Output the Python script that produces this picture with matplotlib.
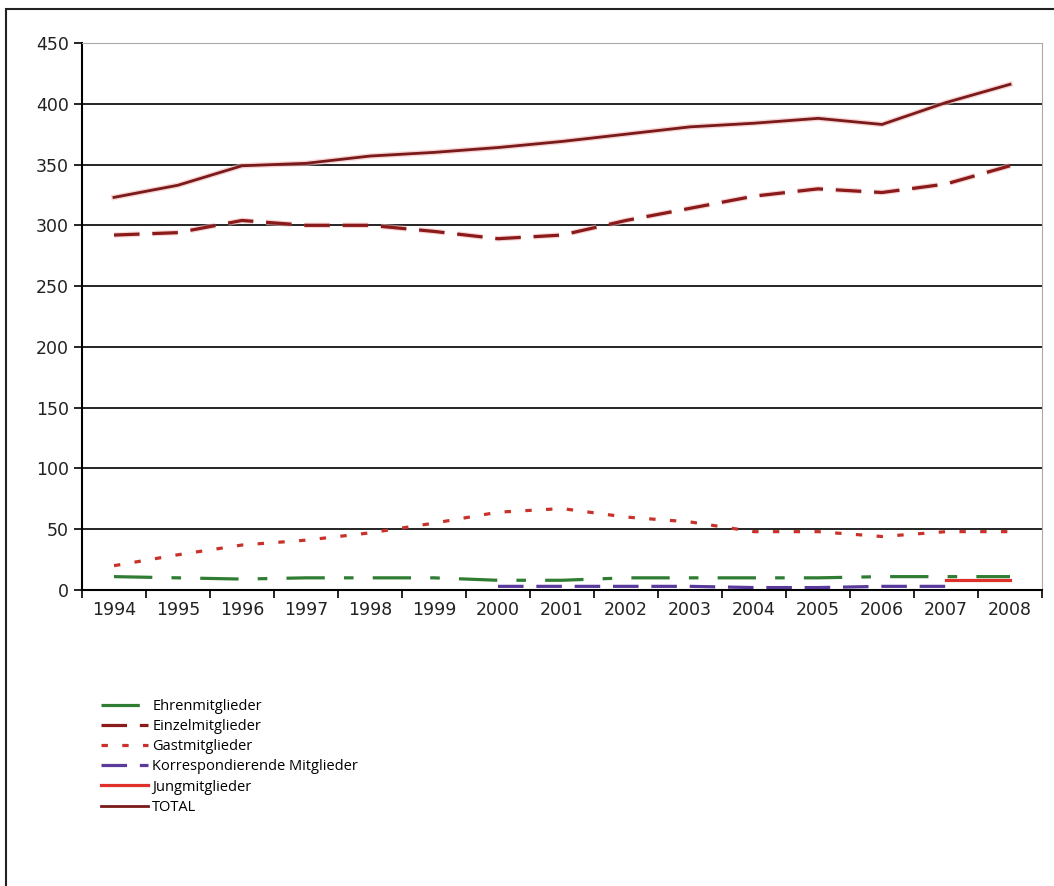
import numpy as np
import matplotlib.pyplot as plt
import matplotlib.patheffects as pe
from matplotlib.patches import Rectangle

years = ['1994', '1995', '1996', '1997', '1998', '1999', '2000', '2001',
         '2002', '2003', '2004', '2005', '2006', '2007', '2008']

ehren = [11, 10, 9, 10, 10, 10, 8, 8, 10, 10, 10, 10, 11, 11, 11]
einzel = [292, 294, 304, 300, 300, 295, 289, 292, 304, 314, 324, 330, 327, 334, 349]
gast = [20, 29, 37, 41, 47, 55, 64, 67, 60, 56, 48, 48, 44, 48, 48]
korr = [None, None, None, None, None, None, 3, 3, 3, 3, 2, 2, 3, 3, None]
jung = [None] * 13 + [8, 8]
total = [323, 333, 349, 351, 357, 360, 364, 369, 375, 381, 384, 388, 383, 401, 416]

def arr(v):
    return np.array([np.nan if x is None else x for x in v], dtype=float)

fig = plt.figure(figsize=(10.54, 8.86), dpi=100)
plt.rcParams['font.family'] = ['Open Sans', 'DejaVu Sans']

# outer frame
fig.patches.append(Rectangle((6 / 1054, -0.01), 1.1, 1 - 9 / 886 + 0.01,
                             transform=fig.transFigure, fill=False,
                             edgecolor='#222222', linewidth=1.5))

ax = fig.add_axes([82 / 1054, 1 - 590 / 886, 960 / 1054, 547 / 886])
x = np.arange(len(years))

halo = [pe.Stroke(linewidth=4, foreground='#f2b8b8', alpha=0.6), pe.Normal()]

l1, = ax.plot(x, arr(ehren), color='#2e7d32', lw=2.3, dashes=(12, 6, 3, 6),
              label='Ehrenmitglieder')
l2, = ax.plot(x, arr(einzel), color='#8b1a1a', lw=2.3, dashes=(8, 4),
              label='Einzelmitglieder', path_effects=halo)
l3, = ax.plot(x, arr(gast), color='#c8322a', lw=2.3, dashes=(2, 4.5),
              label='Gastmitglieder')
l4, = ax.plot(x, arr(korr), color='#5a3a9c', lw=2.3, dashes=(8, 4),
              label='Korrespondierende Mitglieder')
l5, = ax.plot(x, arr(jung), color='#e0302a', lw=2.3, label='Jungmitglieder')
l6, = ax.plot(x, arr(total), color='#7a1a1a', lw=2, label='TOTAL',
              path_effects=halo)

ax.set_xlim(-0.5, len(years) - 0.5)
ax.set_ylim(0, 450)
ax.set_yticks(range(0, 451, 50))
ax.set_xticks(x)
ax.set_xticklabels(years)
ax.set_xticks(np.arange(-0.5, len(years), 1), minor=True)
ax.tick_params(axis='x', which='major', length=0, labelsize=12.5, pad=8)
ax.tick_params(axis='x', which='minor', length=6, width=1.2, direction='out')
ax.tick_params(axis='y', length=6, width=1.2, labelsize=12.5)
for t in ax.get_xticklabels() + ax.get_yticklabels():
    t.set_family('DejaVu Sans')
    t.set_color('#222222')

for v in range(50, 450, 50):
    ax.axhline(v, color='black', lw=1.2, zorder=0)

ax.spines['top'].set_color('#aaaaaa')
ax.spines['right'].set_color('#aaaaaa')
ax.spines['left'].set_linewidth(1.5)
ax.spines['bottom'].set_linewidth(1.5)

leg = fig.legend(handles=[l1, l2, l3, l4, l5, l6], loc='upper left',
                 bbox_to_anchor=(88 / 1054, 1 - 686 / 886), frameon=False,
                 fontsize=10.5, handlelength=3.2, handletextpad=0.3,
                 labelspacing=0.35)
for h in leg.legend_handles:
    h.set_path_effects([])

fig.savefig('out.png', dpi=100)
